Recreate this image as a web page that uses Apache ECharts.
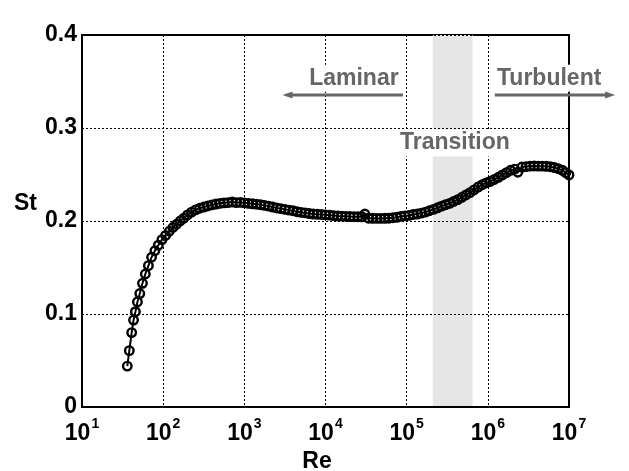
<!DOCTYPE html>
<html>
<head>
<meta charset="utf-8">
<script src="https://cdn.jsdelivr.net/npm/echarts@6/dist/echarts.min.js"></script>
<style>
html,body{margin:0;padding:0;background:#fff;}
#chart{width:629px;height:471px;}
</style>
</head>
<body>
<div id="chart"></div>
<script>
// log10(Re) of each sample
const reExp = [
  1.558, 1.583, 1.612, 1.635, 1.658, 1.683, 1.712, 1.745, 1.780, 1.818,
  1.857, 1.898, 1.940, 1.985, 2.030, 2.075, 2.120, 2.165, 2.210, 2.255,
  2.300, 2.350, 2.400, 2.450, 2.500, 2.550, 2.600, 2.650, 2.700, 2.750,
  2.800, 2.850, 2.900, 2.950, 3.000, 3.050, 3.100, 3.150, 3.200, 3.250,
  3.300, 3.350, 3.400, 3.450, 3.500, 3.550, 3.600, 3.650, 3.700, 3.750,
  3.800, 3.850, 3.900, 3.950, 4.000, 4.050, 4.100, 4.150, 4.200, 4.250,
  4.300, 4.350, 4.400, 4.450, 4.485, 4.530, 4.580, 4.630, 4.680, 4.730,
  4.780, 4.830, 4.880, 4.930, 4.980, 5.030, 5.080, 5.130, 5.180, 5.230,
  5.280, 5.330, 5.380, 5.430, 5.480, 5.530, 5.580, 5.630, 5.680, 5.730,
  5.780, 5.830, 5.880, 5.930, 5.980, 6.030, 6.080, 6.130, 6.180, 6.230,
  6.280, 6.330, 6.370, 6.420, 6.470, 6.520, 6.570, 6.620, 6.670, 6.720,
  6.770, 6.820, 6.870, 6.920, 6.960, 7.000
];
// Strouhal number
const st = [
  0.044, 0.0606, 0.080, 0.0935, 0.1025, 0.113, 0.122, 0.133, 0.143, 0.152,
  0.161, 0.168, 0.174, 0.180, 0.1845, 0.189, 0.193, 0.1965, 0.200, 0.203,
  0.2065, 0.2095, 0.212, 0.2137, 0.215, 0.2162, 0.2173, 0.2182, 0.219, 0.2195,
  0.2198, 0.2205, 0.2198, 0.220, 0.2195, 0.219, 0.2185, 0.218, 0.2175, 0.2168,
  0.216, 0.215, 0.214, 0.2133, 0.2125, 0.2117, 0.211, 0.210, 0.2093, 0.2087,
  0.208, 0.2075, 0.2072, 0.207, 0.2066, 0.2063, 0.2058, 0.2054, 0.2052, 0.205,
  0.2048, 0.2047, 0.2046, 0.2045, 0.2075, 0.203, 0.2029, 0.2028, 0.2028, 0.2029,
  0.203, 0.2035, 0.204, 0.205, 0.2055, 0.206, 0.207, 0.2075, 0.2085, 0.2095,
  0.211, 0.2125, 0.2142, 0.216, 0.2175, 0.219, 0.221, 0.223, 0.2255, 0.228,
  0.2305, 0.2335, 0.2365, 0.239, 0.241, 0.2425, 0.2447, 0.247, 0.2495, 0.252,
  0.2545, 0.2558, 0.2525, 0.258, 0.2585, 0.259, 0.2592, 0.259, 0.259, 0.2588,
  0.2584, 0.2575, 0.2562, 0.2545, 0.252, 0.2495
];
// transition band (Re range)
const bandRange = [2.1e5, 6.5e5];
// annotations: [text, Re, St]
const labels = [
  ['Laminar', 2.24e4, 0.3535],
  ['Turbulent', 5.7e6, 0.3535],
  ['Transition', 3.93e5, 0.284]
];
// arrows: [fromRe, toRe, St] (arrow head at "to")
const arrows = [
  [9.0e4, 2.95e3, 0.3355],
  [1.22e6, 3.7e7, 0.3355]
];
const xMin = 10, xMax = 1e7;
const yMin = 0, yMax = 0.4, yStep = 0.1;
const yTitle = 'St', yTitleAt = 0.219;

const FONT = '"Liberation Sans", Arial, Helvetica, sans-serif';
const GREY = '#666666';

const data = reExp.map((e, i) => [Math.pow(10, e), st[i]]);

const chart = echarts.init(document.getElementById('chart'), null, {renderer: 'canvas'});
const option = {
  animation: false,
  backgroundColor: '#fff',
  grid: {left: 82, right: 60, top: 35, bottom: 64, show: true, containLabel: false,
         outerBoundsMode: 'none',
         borderColor: '#000', borderWidth: 2, backgroundColor: 'transparent'},
  xAxis: {
    type: 'log', logBase: 10, min: xMin, max: xMax, splitNumber: 6, z: 1.5,
    name: 'Re', nameLocation: 'middle', nameGap: 31,
    nameTextStyle: {fontFamily: FONT, fontWeight: 'bold', fontSize: 23, color: '#000', padding: [0, 17, 0, 0]},
    axisLine: {show: true, lineStyle: {color: '#000', width: 2}},
    axisTick: {show: false},
    splitLine: {show: true, lineStyle: {color: '#000', width: 1, type: [2, 2]}},
    axisLabel: {
      margin: 10,
      formatter: function (v) {
        const e = Math.round(Math.log10(v));
        return '{b|10}{s|' + e + '}';
      },
      rich: {
        b: {fontFamily: FONT, fontWeight: 'bold', fontSize: 23, color: '#000', lineHeight: 28, verticalAlign: 'bottom'},
        s: {fontFamily: FONT, fontWeight: 'bold', fontSize: 14, color: '#000', lineHeight: 28, verticalAlign: 'top', padding: [0, 0, 0, 1]}
      }
    }
  },
  yAxis: {
    type: 'value', min: yMin, max: yMax, interval: yStep, z: 1.5,
    axisLine: {show: true, lineStyle: {color: '#000', width: 2}},
    axisTick: {show: false},
    splitLine: {show: true, lineStyle: {color: '#000', width: 1, type: [2, 2]}},
    axisLabel: {margin: 5, fontFamily: FONT, fontWeight: 'bold', fontSize: 23, color: '#000',
      formatter: v => (v === 0 ? '0' : v.toFixed(1))}
  },
  series: [
    {
      type: 'line', data: [], z: 1, silent: true,
      markArea: {
        silent: true,
        itemStyle: {color: '#e6e6e6'},
        data: [[{xAxis: bandRange[0]}, {xAxis: bandRange[1]}]]
      }
    },
    {
      type: 'line', data: data, z: 2,
      symbol: 'circle', symbolSize: 8.5, showAllSymbol: true,
      lineStyle: {color: '#000', width: 2},
      itemStyle: {color: 'rgba(255,255,255,0)', borderColor: '#000', borderWidth: 2.4}
    }
  ]
};
chart.setOption(option);

function px(x, y) { return chart.convertToPixel({gridIndex: 0}, [x, y]); }
const graphics = [];
const tp = px(xMin, yTitleAt);
graphics.push({
  type: 'text', z: 20, x: tp[0] - 45, y: tp[1],
  style: {text: yTitle, font: 'bold 23px ' + FONT, fill: '#000', align: 'right', verticalAlign: 'middle'}
});
labels.forEach(l => {
  const p = px(l[1], l[2]);
  graphics.push({
    type: 'text', z: 20, x: p[0], y: p[1],
    style: {text: l[0], font: 'bold 23px ' + FONT, fill: GREY, align: 'center', verticalAlign: 'middle',
            backgroundColor: '#fff', padding: [2, 3, 2, 3]}
  });
});
arrows.forEach(a => {
  const p1 = px(a[0], a[2]);
  const p2 = px(a[1], a[2]);
  const dir = p2[0] > p1[0] ? 1 : -1;
  const L = 10, H = 3.5;
  graphics.push({
    type: 'line', z: 21,
    shape: {x1: p1[0], y1: p1[1], x2: p2[0] - dir * L * 0.6, y2: p2[1]},
    style: {stroke: GREY, lineWidth: 3}
  });
  graphics.push({
    type: 'polygon', z: 21,
    shape: {points: [[p2[0], p2[1]], [p2[0] - dir * L, p2[1] - H], [p2[0] - dir * L, p2[1] + H]]},
    style: {fill: GREY}
  });
});
chart.setOption({graphic: graphics});
</script>
</body>
</html>
